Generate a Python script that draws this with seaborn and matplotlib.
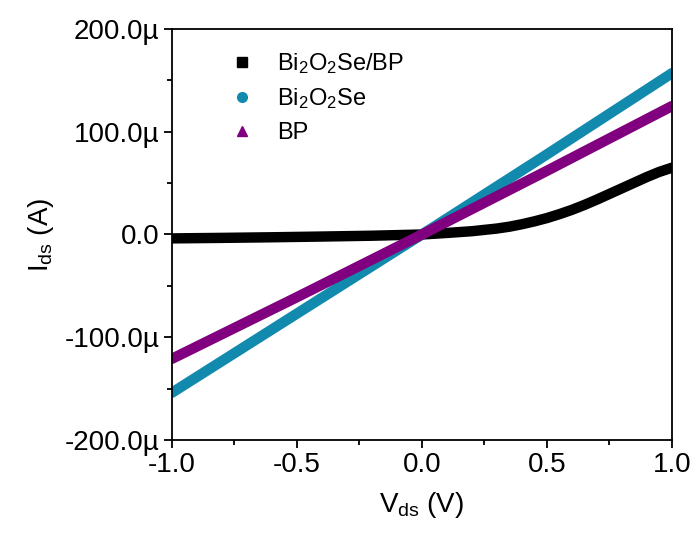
import numpy as np
import pandas as pd
import seaborn as sns
import matplotlib.pyplot as plt
from matplotlib.lines import Line2D
from matplotlib.ticker import MultipleLocator, FixedLocator

# values (current in µA)
v_het = [-1.0, -0.8, -0.6, -0.4, -0.2, 0.0, 0.1, 0.2, 0.3, 0.35, 0.4, 0.45, 0.5, 0.55,
         0.6, 0.65, 0.7, 0.75, 0.8, 0.85, 0.9, 0.95, 1.0]
i_het = [-3.8, -3.3, -2.7, -2.0, -1.2, 0.0, 1.5, 3.2, 5.8, 7.6, 10.0, 12.8, 16.0, 19.8,
         24.0, 28.8, 34.0, 39.5, 45.0, 50.5, 56.0, 61.0, 65.0]

v_bos = [-1.0, -0.5, 0.0, 0.5, 1.0]
i_bos = [-154.0, -77.0, 0.0, 78.0, 157.0]

v_bp = [-1.0, -0.5, 0.0, 0.5, 1.0]
i_bp = [-121.0, -61.0, 0.0, 62.0, 125.0]

labels = ['Bi$_2$O$_2$Se/BP', 'Bi$_2$O$_2$Se', 'BP']
colors = ['#000000', '#118AAE', '#800080']
markers = ['s', 'o', '^']

y_ticks = [-200, -100, 0, 100, 200]
y_ticklabels = ['-200.0µ', '-100.0µ', '0.0', '100.0µ', '200.0µ']
x_ticks = [-1.0, -0.5, 0.0, 0.5, 1.0]
x_ticklabels = ['-1.0', '-0.5', '0.0', '0.5', '1.0']

df = pd.concat([
    pd.DataFrame({'V': v_het, 'I': i_het, 'sample': labels[0]}),
    pd.DataFrame({'V': v_bos, 'I': i_bos, 'sample': labels[1]}),
    pd.DataFrame({'V': v_bp, 'I': i_bp, 'sample': labels[2]}),
])

sns.set_style('ticks')
plt.rcParams['font.family'] = ['Liberation Sans', 'DejaVu Sans']
plt.rcParams['mathtext.fontset'] = 'custom'
plt.rcParams['mathtext.rm'] = 'Liberation Sans'
plt.rcParams['mathtext.it'] = 'Liberation Sans'
plt.rcParams['axes.unicode_minus'] = False
plt.rcParams['text.color'] = 'black'
plt.rcParams['axes.labelcolor'] = 'black'
plt.rcParams['xtick.color'] = 'black'
plt.rcParams['ytick.color'] = 'black'
plt.rcParams['axes.edgecolor'] = 'black'

fig = plt.figure(figsize=(6.96, 5.35), dpi=100)
ax = fig.add_axes([0.247, 0.1776, 0.7185, 0.7682])

sns.lineplot(data=df, x='V', y='I', hue='sample', hue_order=labels,
             palette=colors, linewidth=7.5, sort=False, legend=False, ax=ax)

ax.set_xlim(-1.0, 1.0)
ax.set_ylim(-200, 200)
ax.xaxis.set_major_locator(FixedLocator(x_ticks))
ax.set_xticklabels(x_ticklabels)
ax.xaxis.set_minor_locator(MultipleLocator(0.25))
ax.yaxis.set_major_locator(FixedLocator(y_ticks))
ax.set_yticklabels(y_ticklabels)
ax.yaxis.set_minor_locator(MultipleLocator(50))

ax.tick_params(which='major', direction='out', length=6, width=1.3, labelsize=20, pad=3)
ax.tick_params(which='minor', direction='out', length=3.5, width=1.3)
for s in ax.spines.values():
    s.set_linewidth(1.3)

ax.set_xlabel('V$_{\\rm ds}$ (V)', fontsize=20, labelpad=8)
ax.set_ylabel('I$_{\\rm ds}$ (A)', fontsize=20, labelpad=6)

handles = [Line2D([], [], linestyle='none', marker=m, color=c, markersize=7)
           for m, c in zip(markers, colors)]
ax.legend(handles, labels, loc='upper left', frameon=False, fontsize=17,
          bbox_to_anchor=(0.05, 0.998), handletextpad=0.5, labelspacing=0.45)

fig.savefig('out.png', dpi=100)
